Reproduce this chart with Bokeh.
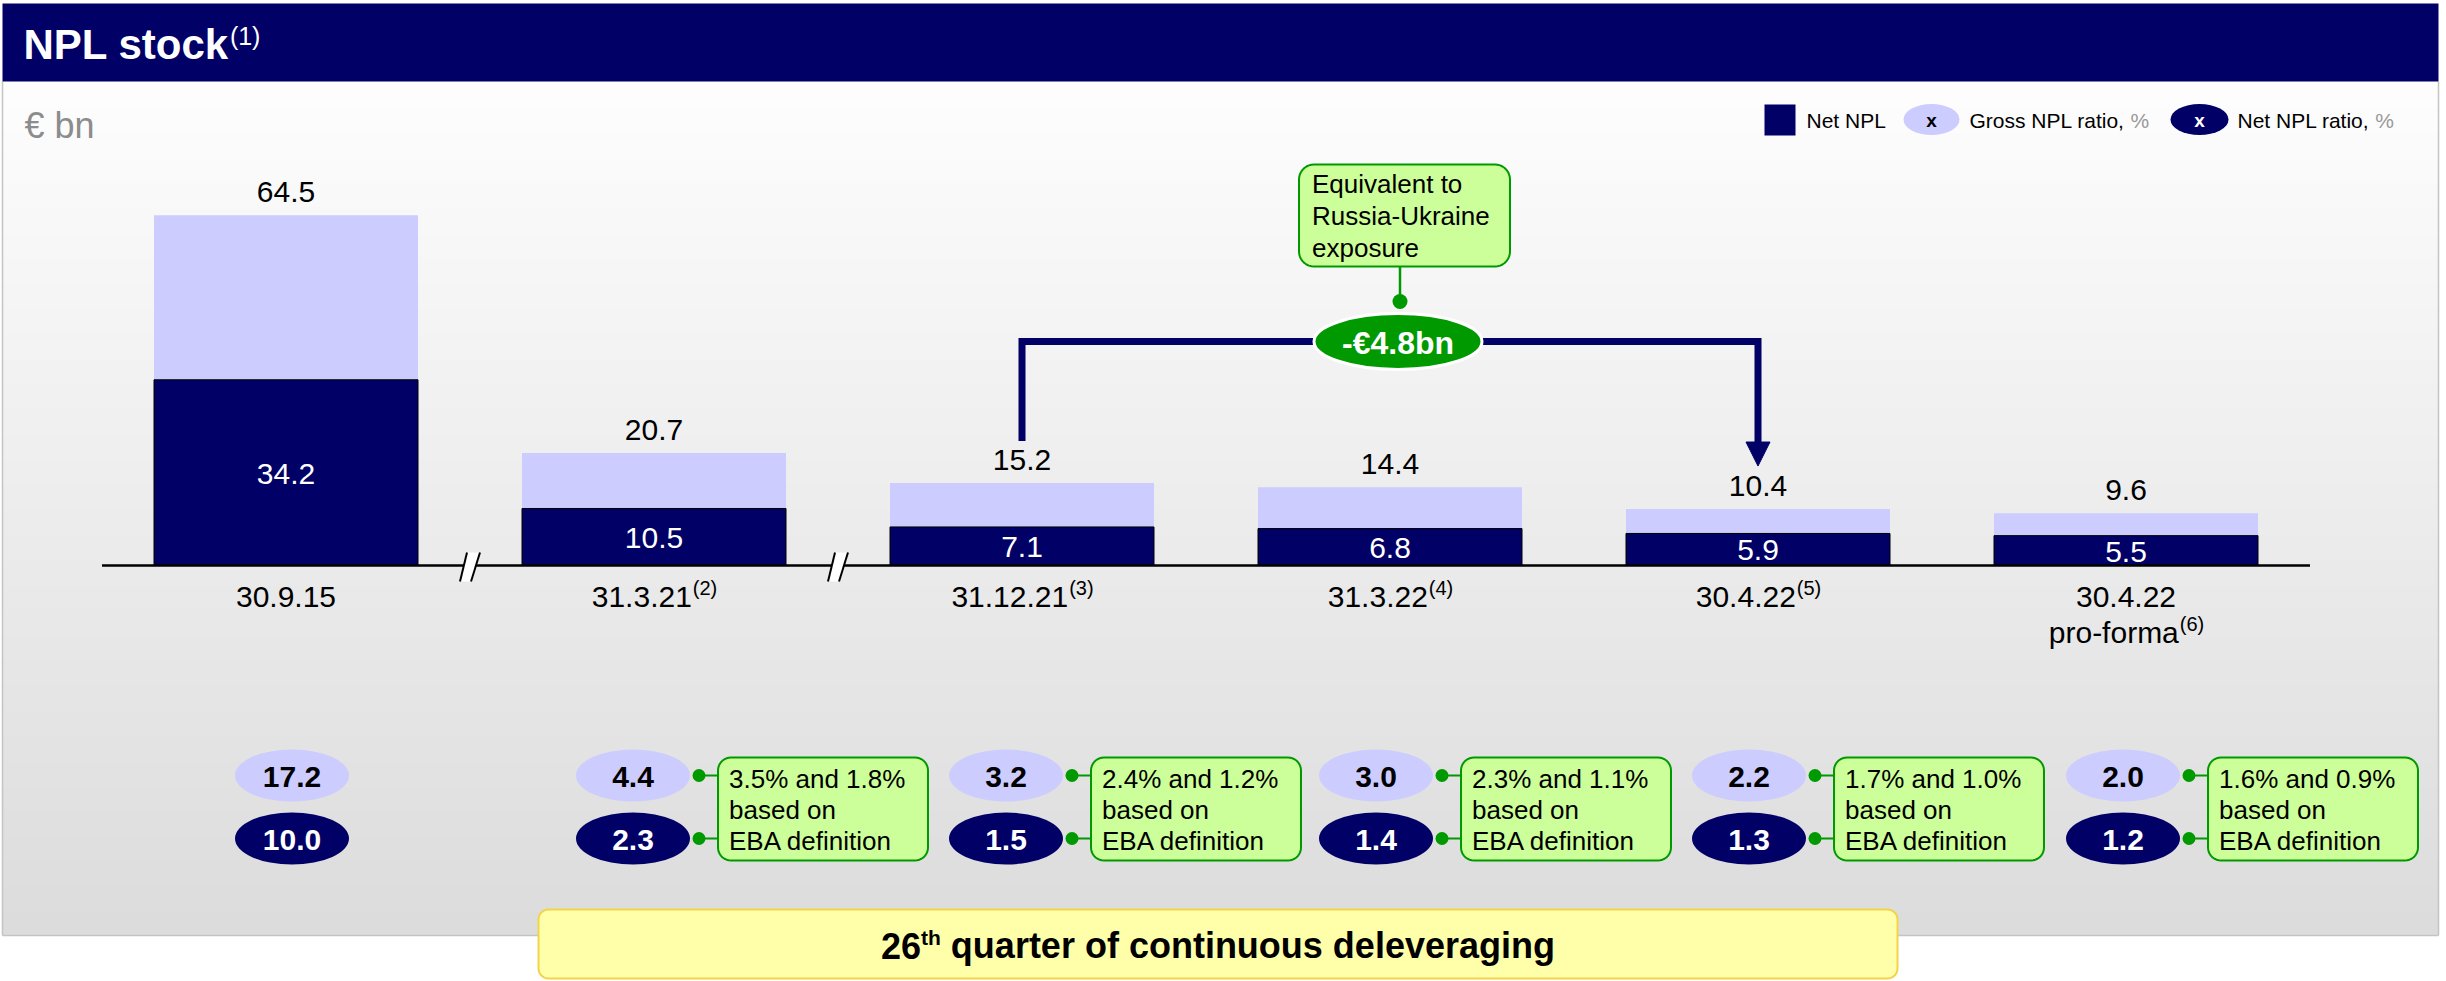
import numpy as np
from bokeh.plotting import figure
from bokeh.models import Range1d
from bokeh.core.properties import value
from bokeh.embed import file_html
from bokeh.resources import INLINE

# ---------------- data ----------------
categories = ["30.9.15", "31.3.21", "31.12.21", "31.3.22", "30.4.22", "30.4.22"]
category_line2 = ["", "", "", "", "", "pro-forma"]
category_notes = ["", "(2)", "(3)", "(4)", "(5)", "(6)"]
gross_npl = [64.5, 20.7, 15.2, 14.4, 10.4, 9.6]
net_npl = [34.2, 10.5, 7.1, 6.8, 5.9, 5.5]
gross_ratio = [17.2, 4.4, 3.2, 3.0, 2.2, 2.0]
net_ratio = [10.0, 2.3, 1.5, 1.4, 1.3, 1.2]
eba_gross_ratio = [None, 3.5, 2.4, 2.3, 1.7, 1.6]
eba_net_ratio = [None, 1.8, 1.2, 1.1, 1.0, 0.9]
axis_breaks = [0, 1]          # breaks after these categories
reduction = -4.8
reduction_from, reduction_to = 2, 4
title = "NPL stock"
title_note = "(1)"
unit_label = "€ bn"
callout_text = ["Equivalent to", "Russia-Ukraine", "exposure"]
quarters = 26

# ---------------- layout / style ----------------
W, H = 2446, 981
X0, STEP, BAR_W = 285.5, 368.0, 264.0
BASE_Y, K = 565.0, 5.43
RATIO_DX = [6, -21, -16, -14, -9, -3]
NAVY = "#000066"
LAV = "#ccccff"
GREEN = "#009900"
LGREEN = "#ccff99"
FONT = value("Liberation Sans")

REG_W = {c: .556 for c in "0123456789"}
REG_W.update({' ': .278, '.': .278, ',': .278, '%': .889, '(': .333, ')': .333, '-': .333, '€': .556})
REG_W.update(dict(zip("abcdefghijklmnopqrstuvwxyz",
    [.556, .556, .5, .556, .556, .278, .556, .556, .222, .222, .5, .222, .833, .556, .556, .556, .556, .333, .5, .278, .556, .5, .722, .5, .5, .5])))
REG_W.update({'A': .667, 'B': .667, 'E': .667, 'G': .778, 'L': .556, 'N': .722, 'P': .667, 'R': .722, 'U': .722})
BOLD_W = {c: .556 for c in "0123456789"}
BOLD_W.update({' ': .278, '.': .278, ',': .278, '%': .889, '(': .333, ')': .333, '-': .333, '€': .556})
BOLD_W.update(dict(zip("abcdefghijklmnopqrstuvwxyz",
    [.556, .611, .556, .611, .556, .333, .611, .611, .278, .278, .556, .278, .889, .611, .611, .611, .611, .389, .556, .333, .611, .556, .778, .556, .556, .5])))
BOLD_W.update({'N': .722, 'P': .667, 'L': .611})


def tw(s, size, bold=False):
    t = BOLD_W if bold else REG_W
    return sum(t.get(c, 0.6) for c in s) * size


def cat_px(i):
    return X0 + STEP * i


p = figure(width=W, height=H, x_range=Range1d(0, W), y_range=Range1d(H, 0),
           output_backend="svg", toolbar_location=None, min_border=0,
           x_axis_type=None, y_axis_type=None)
p.grid.visible = False
p.outline_line_color = None
p.background_fill_color = "white"
p.border_fill_color = "white"
p.extra_x_ranges = {"cat": Range1d(-X0 / STEP, (W - X0) / STEP)}
p.extra_y_ranges = {"bn": Range1d((BASE_Y - H) / K, BASE_Y / K)}


def txt(x, y, s, size, color="black", bold=False, align="left",
        xr="default", yr="default", xo=0, yo=0):
    p.text(x=[x], y=[y], text=[s], text_font=FONT, text_font_size=f"{size}px",
           text_font_style="bold" if bold else "normal", text_color=color,
           text_align=align, text_baseline="middle", x_range_name=xr, y_range_name=yr,
           x_offset=xo, y_offset=yo)


def rrect(x0, y0, x1, y1, r, n=10):
    xs, ys = [], []
    for cx, cy, a0 in [(x0 + r, y0 + r, 180), (x1 - r, y0 + r, 270), (x1 - r, y1 - r, 0), (x0 + r, y1 - r, 90)]:
        for a in np.linspace(a0, a0 + 90, n):
            xs.append(cx + r * np.cos(np.radians(a)))
            ys.append(cy + r * np.sin(np.radians(a)))
    return xs, ys


# background panel gradient
ys = np.arange(81, 936, 3)
vals = 254 - (ys - 81) / (935 - 81) * (254 - 220)
cols = ["#%02x%02x%02x" % (int(v), int(v), int(v)) for v in vals]
p.quad(left=2, right=2438, top=ys, bottom=np.minimum(ys + 3.5, 935), fill_color=cols, line_color=None)
p.multi_line(xs=[[2438, 2438], [2, 2438], [2, 2]], ys=[[81, 935], [935, 935], [81, 935]],
             line_color="#c4c4c4", line_width=1.5)

# header
p.quad(left=[2], right=[2438], top=[3], bottom=[81], fill_color=NAVY, line_color=None)
txt(23, 44, title, 42, color="white", bold=True)
txt(23 + tw(title, 42, True) + 1, 35, title_note, 25, color="white")
txt(24, 125, unit_label, 36, color="#8c8c8c")

# legend
p.quad(left=[1764], right=[1795], top=[104], bottom=[135], fill_color=NAVY, line_color=None)
txt(1806, 120, "Net NPL", 21)
p.ellipse(x=[1931], y=[119], width=56, height=31, width_units="screen", height_units="screen",
          fill_color=LAV, line_color=None)
txt(1931, 120, "x", 19, bold=True, align="center")
s1 = "Gross NPL ratio,"
txt(1969, 120, s1, 21)
txt(1969 + tw(s1 + " ", 21), 120, "%", 21, color="#999999")
p.ellipse(x=[2199], y=[119], width=58, height=31, width_units="screen", height_units="screen",
          fill_color=NAVY, line_color=None)
txt(2199, 120, "x", 19, color="white", bold=True, align="center")
s2 = "Net NPL ratio,"
txt(2237, 120, s2, 21)
txt(2237 + tw(s2 + " ", 21), 120, "%", 21, color="#999999")

# bars
idx = list(range(len(categories)))
bw = BAR_W / STEP
p.vbar(x=idx, width=bw, bottom=0, top=gross_npl, fill_color=LAV, line_color=None,
       x_range_name="cat", y_range_name="bn")
p.vbar(x=idx, width=bw, bottom=0, top=net_npl, fill_color=NAVY, line_color="#000000", line_width=1,
       x_range_name="cat", y_range_name="bn")

# baseline axis
p.segment(x0=[-0.5], y0=[0], x1=[len(categories) - 0.5], y1=[0], line_color="black", line_width=2.5,
          x_range_name="cat", y_range_name="bn")

# axis breaks
for b in axis_breaks:
    c = b + 0.5
    d = lambda px: c + px / STEP
    p.patch(x=[d(-10), d(1), d(10), d(-3)], y=[581, 581, 552, 552], fill_color="white", line_color=None,
            x_range_name="cat")
    p.multi_line(xs=[[d(-10), d(-3)], [d(1), d(10)]], ys=[[581, 552], [581, 552]], line_color="black",
                 line_width=2, x_range_name="cat")

# value labels
p.text(x=idx, y=gross_npl, text=[f"{v:.1f}" for v in gross_npl], text_font=FONT, text_font_size="30px",
       text_color="black", text_align="center", text_baseline="middle", y_offset=-23,
       x_range_name="cat", y_range_name="bn")
p.text(x=idx, y=[v / 2 for v in net_npl], text=[f"{v:.1f}" for v in net_npl], text_font=FONT,
       text_font_size="30px", text_color="white", text_align="center", text_baseline="middle",
       y_offset=1, x_range_name="cat", y_range_name="bn")

# category labels
for i in idx:
    lines = [categories[i]] + ([category_line2[i]] if category_line2[i] else [])
    for j, ln in enumerate(lines):
        yc = 596 + 36 * j
        note = category_notes[i] if j == len(lines) - 1 else ""
        total = tw(ln, 30) + tw(note, 20)
        txt(i, yc, ln, 30, xr="cat", xo=-total / 2)
        if note:
            txt(i, yc - 9, note, 20, xr="cat", xo=-total / 2 + tw(ln, 30) + 1)

# ratio ellipses
rx = [i + RATIO_DX[i] / STEP for i in idx]
p.ellipse(x=rx, y=[775] * len(idx), width=114, height=52, width_units="screen", height_units="screen",
          fill_color=LAV, line_color=None, x_range_name="cat")
p.ellipse(x=rx, y=[838] * len(idx), width=114, height=52, width_units="screen", height_units="screen",
          fill_color=NAVY, line_color=None, x_range_name="cat")
p.text(x=rx, y=[776] * len(idx), text=[f"{v:.1f}" for v in gross_ratio], text_font=FONT,
       text_font_size="30px", text_font_style="bold", text_color="black", text_align="center",
       text_baseline="middle", x_range_name="cat")
p.text(x=rx, y=[839] * len(idx), text=[f"{v:.1f}" for v in net_ratio], text_font=FONT,
       text_font_size="30px", text_font_style="bold", text_color="white", text_align="center",
       text_baseline="middle", x_range_name="cat")

# EBA callouts
for i in idx:
    if eba_gross_ratio[i] is None:
        continue
    ex = cat_px(i) + RATIO_DX[i]
    bx0, bx1 = ex + 85, ex + 295
    xs, ysr = rrect(bx0, 757, bx1, 860, 13)
    p.patch(x=xs, y=ysr, fill_color=LGREEN, line_color=GREEN, line_width=2)
    p.multi_line(xs=[[ex + 66, bx0], [ex + 66, bx0]], ys=[[775, 775], [838, 838]], line_color=GREEN, line_width=2)
    p.scatter(x=[ex + 66, ex + 66], y=[775, 838], size=13, marker="circle", fill_color=GREEN, line_color=None)
    lines = [f"{eba_gross_ratio[i]:.1f}% and {eba_net_ratio[i]:.1f}%", "based on", "EBA definition"]
    for j, ln in enumerate(lines):
        txt(bx0 + 11, 778 + 31 * j, ln, 26)

# deleveraging bracket
Y_BR = (BASE_Y - 341) / K
g0, g1 = gross_npl[reduction_from], gross_npl[reduction_to]
p.line(x=[reduction_from, reduction_from, reduction_to, reduction_to],
       y=[g0 + 42 / K, Y_BR, Y_BR, g1 + 64 / K], line_color=NAVY, line_width=7, line_join="miter",
       x_range_name="cat", y_range_name="bn")
p.patch(x=[reduction_to - 12 / STEP, reduction_to + 12 / STEP, reduction_to],
        y=[g1 + 67 / K, g1 + 67 / K, g1 + 43 / K], fill_color=NAVY, line_color=NAVY,
        x_range_name="cat", y_range_name="bn")

mid = (reduction_from + reduction_to) / 2
emx = cat_px(mid) + 8
# callout above
xs, ysr = rrect(emx - 99, 164, emx + 112, 266, 15)
p.line(x=[emx + 2, emx + 2], y=[266, 301], line_color=GREEN, line_width=2.5)
p.patch(x=xs, y=ysr, fill_color=LGREEN, line_color=GREEN, line_width=2)
p.scatter(x=[emx + 2], y=[301], size=15, marker="circle", fill_color=GREEN, line_color=None)
for j, ln in enumerate(callout_text):
    txt(emx - 86, 183 + 32 * j, ln, 26)
p.ellipse(x=[mid + 8 / STEP], y=[Y_BR], width=168, height=56, width_units="screen", height_units="screen",
          fill_color=GREEN, line_color="white", line_width=3, x_range_name="cat", y_range_name="bn")
txt(mid + 8 / STEP, Y_BR, f"-€{abs(reduction):.1f}bn", 32, color="white", bold=True, align="center",
    xr="cat", yr="bn", yo=1)

# bottom message
xs, ysr = rrect(538, 909, 1897, 978, 10)
p.patch(x=xs, y=ysr, fill_color="#ffffaa", line_color="#f2d34a", line_width=2)
a, sup, rest = f"{quarters}", "th", "quarter of continuous deleveraging"
sp = tw(" ", 36, True)
total = tw(a, 36, True) + tw(sup, 21, True) + sp + tw(rest, 36, True)
sx = (538 + 1897) / 2 - total / 2
txt(sx, 945, a, 36, bold=True)
txt(sx + tw(a, 36, True), 937, sup, 21, bold=True)
txt(sx + tw(a, 36, True) + tw(sup, 21, True) + sp, 945, rest, 36, bold=True)

open("out.html", "w").write(file_html(p, INLINE))
